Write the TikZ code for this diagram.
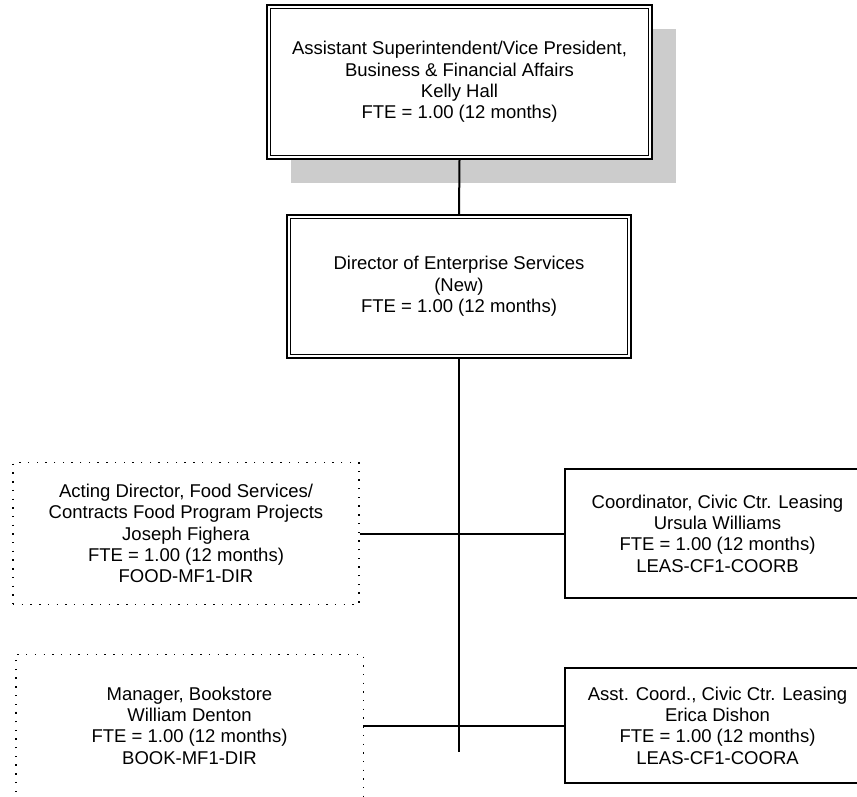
\documentclass[tikz,border=0pt]{standalone}
\usepackage{fontspec}
\setmainfont{Liberation Sans}
\usetikzlibrary{shadows}
\definecolor{shadowgray}{HTML}{CCCCCC}
\tikzset{
  orgtext/.style={align=center, font=\fontsize{18.5}{21.3}\selectfont, inner sep=0pt},
  framebox/.style={orgtext, draw, line width=2.2pt, fill=white},
  solidbox/.style={orgtext, draw, line width=1.6pt, fill=white},
  dotline/.style={line width=1.4pt, dash pattern=on 1.4pt off 7.3pt},
  dotbox/.style={orgtext, draw, dotline},
  link/.style={line width=2pt},
  innerframe/.style={line width=1pt}
}
\begin{document}
\begin{tikzpicture}[x=1pt,y=-1pt]
  \useasboundingbox (0,0) rectangle (857,797);

  % Top executive with drop shadow and double frame
  \node[framebox, minimum width=385pt, minimum height=154pt,
        general shadow={fill=shadowgray, shadow xshift=24pt, shadow yshift=-24pt}]
    (vp) at (459.5,82)
    {Assistant Superintendent/Vice President,\\Business \& Financial Affairs\\Kelly Hall\\FTE = 1.00 (12 months)};
  \draw[innerframe] ([shift={(5,5)}]vp.north west) rectangle ([shift={(-5,-5)}]vp.south east);

  % Director with double frame
  \node[framebox, minimum width=344pt, minimum height=143pt]
    (dir) at (459,286.5)
    {Director of Enterprise Services\\(New)\\FTE = 1.00 (12 months)};
  \draw[innerframe] ([shift={(5,4.5)}]dir.north west) rectangle ([shift={(-5,-4.5)}]dir.south east);

  % Reports
  \node[dotbox, minimum width=346pt, minimum height=142pt] (food) at (186,533.5)
    {Acting Director, Food Services/\\Contracts Food Program Projects\\Joseph Fighera\\FTE = 1.00 (12 months)\\FOOD-MF1-DIR};
  \node[orgtext, minimum width=347pt, minimum height=142pt] (book) at (189.5,725.5)
    {Manager, Bookstore\\William Denton\\FTE = 1.00 (12 months)\\BOOK-MF1-DIR};
  % the bookstore frame runs off the lower edge
  \draw[dotline] ([yshift=-30pt]book.south west) -- (book.north west) -- (book.north east) -- ([yshift=-30pt]book.south east);
  \node[solidbox, minimum width=305pt, minimum height=129pt] (leasb) at (717.5,533.5)
    {Coordinator, Civic Ctr. Leasing\\Ursula Williams\\FTE = 1.00 (12 months)\\LEAS-CF1-COORB};
  \node[solidbox, minimum width=305pt, minimum height=115pt] (leasa) at (717.5,725.5)
    {Asst. Coord., Civic Ctr. Leasing\\Erica Dishon\\FTE = 1.00 (12 months)\\LEAS-CF1-COORA};

  % Connectors
  \coordinate (spineend) at (459,752);
  \draw[link] (vp.south) -- (dir.north);
  \draw[link] (dir.south) -- (spineend);
  \draw[link] (food.east) -- (leasb.west);
  \draw[link] (book.east) -- (leasa.west);
\end{tikzpicture}
\end{document}
